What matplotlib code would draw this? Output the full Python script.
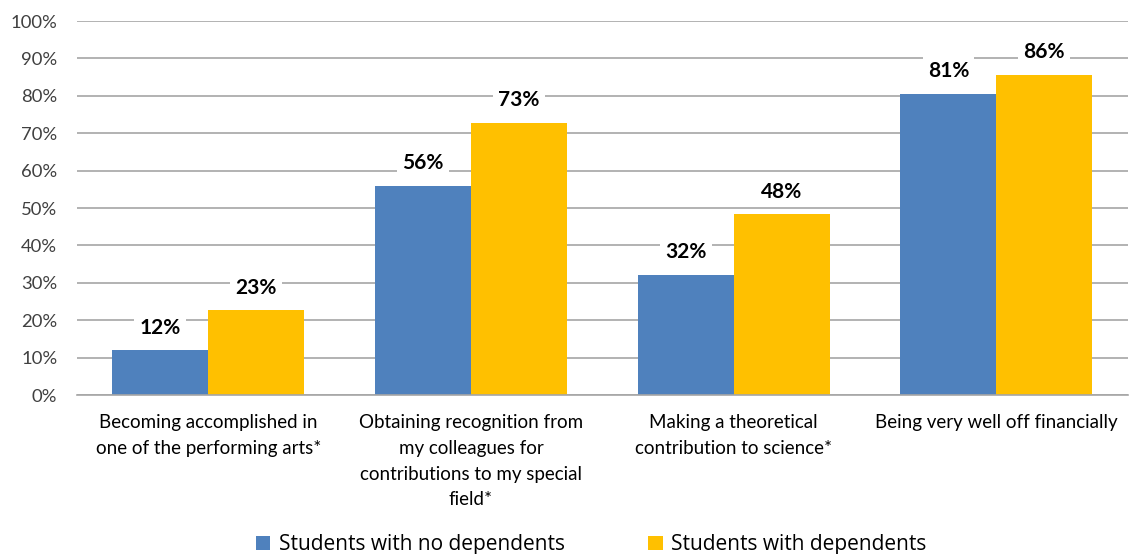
import numpy as np
import matplotlib.pyplot as plt

categories = [
    "Becoming accomplished in\none of the performing arts*",
    "Obtaining recognition from\nmy colleagues for\ncontributions to my special\nfield*",
    "Making a theoretical\ncontribution to science*",
    "Being very well off financially",
]
no_dependents = [12.0, 56.0, 32.2, 80.6]
with_dependents = [22.6, 72.8, 48.4, 85.7]
no_dep_labels = ["12%", "56%", "32%", "81%"]
with_dep_labels = ["23%", "73%", "48%", "86%"]
series_names = ["Students with no dependents", "Students with dependents"]

plt.rcParams["font.family"] = ["Lato", "DejaVu Sans"]

fig = plt.figure(figsize=(11.3, 5.54), dpi=100)
ax = fig.add_axes([0.068, 0.287, 0.93, 0.675])

x = np.arange(len(categories))
w = 0.365
b1 = ax.bar(x - w / 2, no_dependents, w, color="#4F81BD", label=series_names[0], zorder=2)
b2 = ax.bar(x + w / 2, with_dependents, w, color="#FFC000", label=series_names[1], zorder=2)

# data labels with white box so gridlines break behind them
for bars, labels in [(b1, no_dep_labels), (b2, with_dep_labels)]:
    for rect, lab in zip(bars, labels):
        ax.annotate(lab, (rect.get_x() + rect.get_width() / 2, rect.get_height()),
                    xytext=(0, 9), textcoords="offset points", ha="center", va="bottom",
                    fontsize=15, fontweight="bold", color="#000000", zorder=3,
                    bbox=dict(boxstyle="square,pad=0.25", fc="white", ec="none"))

ax.set_ylim(0, 100)
ax.set_xlim(-0.5, len(categories) - 0.5)
ax.set_yticks(np.arange(0, 101, 10))
ax.set_yticklabels([f"{v}%" for v in range(0, 101, 10)], fontsize=13.3, color="#404040")
ax.yaxis.grid(True, color="#A6A6A6", linewidth=1.2, zorder=0)
ax.set_axisbelow(True)
ax.tick_params(axis="y", length=0, pad=14)
ax.tick_params(axis="x", length=0, pad=14)
ax.set_xticks(x)
ax.set_xticklabels(categories, fontsize=13.5, color="#000000", va="top", linespacing=1.62)
for s in ["top", "right", "left"]:
    ax.spines[s].set_visible(False)
ax.spines["bottom"].set_color("#A6A6A6")
ax.spines["bottom"].set_linewidth(1.2)

fig.legend(loc="lower center", bbox_to_anchor=(0.523, -0.036), ncol=2, frameon=False,
           handlelength=0.7, handleheight=0.7, columnspacing=4.0,
           handletextpad=0.4, prop={"family": ["Open Sans", "DejaVu Sans"], "size": 15})

fig.savefig("out.png", dpi=100)
